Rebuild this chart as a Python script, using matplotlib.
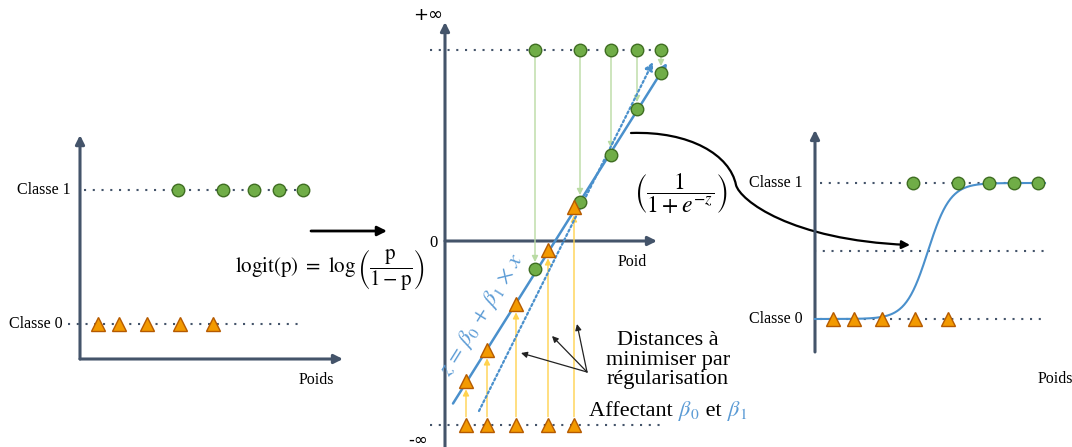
import matplotlib
matplotlib.use('Agg')
import matplotlib.pyplot as plt
import numpy as np
from matplotlib.path import Path
from matplotlib.patches import FancyArrowPatch
from matplotlib.transforms import IdentityTransform

plt.rcParams['font.family'] = ['Liberation Serif', 'DejaVu Serif']
plt.rcParams['mathtext.fontset'] = 'stix'

# --- données ---
poids_classe0 = [18, 39, 67, 100, 133]
poids_classe1 = [98, 143, 174, 199, 223]

# panneau central : abscisses et valeurs de z projetées sur la droite
poids_c0_milieu = [21, 42, 71, 103, 129]
poids_c1_milieu = [90, 135, 166, 192, 216]
z_c0_proj = [-2.80, -2.18, -1.26, -0.18, 0.68]
z_c1_proj = [-0.56, 0.78, 1.72, 2.64, 3.36]
z_plus_inf, z_moins_inf = 3.82, -3.68
droite_x, droite_z = [8, 222], [-3.25, 3.56]        # z = b0 + b1 x
droite2_x, droite2_z = [34, 208], [-3.40, 3.58]     # autre droite (pointillés)

# sigmoïde du panneau droit
sig_x0, sig_k = 113, 0.09
sig_xmin, sig_xmax = 0, 230
seuil = 0.5

ardoise = '#44546A'
vert = '#70AD47'
vert_bord = '#3F6E22'
orange = '#F39A00'
orange_bord = '#B55A00'
bleu = '#5B9BD5'
bleu_ligne = '#4A90CC'

W, H = 1072, 447
fig = plt.figure(figsize=(W / 100, H / 100), dpi=100)
fond = fig.add_axes([0, 0, 1, 1])
fond.set_xlim(0, W)
fond.set_ylim(H, 0)
fond.axis('off')


def panneau(x0, y0, x1, y1, ox, oy, ech):
    ax = fig.add_axes([x0 / W, 1 - y1 / H, (x1 - x0) / W, (y1 - y0) / H])
    ax.set_xlim(x0 - ox, x1 - ox)
    ax.set_ylim((oy - y1) / ech, (oy - y0) / ech)
    ax.axis('off')
    ax.patch.set_alpha(0)
    return ax


def fleche(ax, depart, arrivee, couleur, lw, ms, sA=0, sB=0, z=2):
    ax.annotate('', xy=arrivee, xytext=depart,
                arrowprops=dict(arrowstyle='-|>', color=couleur, lw=lw,
                                mutation_scale=ms, shrinkA=sA, shrinkB=sB),
                zorder=z)


def pointilles(ax, x, y, lw=1.5):
    ax.plot(x, [y, y], color=ardoise, lw=lw, ls=(0, (1, 3.2)), zorder=1)


def marqueurs(ax, x, y, classe):
    if classe == 1:
        ax.plot(x, y, 'o', ms=9, mfc=vert, mec=vert_bord, mew=1, ls='none', zorder=5)
    else:
        ax.plot(x, y, '^', ms=10, mfc=orange, mec=orange_bord, mew=1, ls='none', zorder=5)


# ---------- panneau gauche ----------
g = panneau(0, 110, 370, 400, 80, 324, 134)
y0g = (324 - 359) / 134
fleche(g, (0, y0g), (0, 1.41), ardoise, 2.2, 13)
fleche(g, (0, y0g), (263, y0g), ardoise, 2.2, 13)
pointilles(g, [4, 230], 1)
pointilles(g, [-12, 222], 0)
marqueurs(g, poids_classe1, [1] * 5, 1)
marqueurs(g, poids_classe0, [0] * 5, 0)
g.text(-9, 1, 'Classe 1', ha='right', va='center', fontsize=11.5)
g.text(-17, 0, 'Classe 0', ha='right', va='center', fontsize=11.5)
g.text(236, -0.42, 'Poids', ha='center', va='center', fontsize=11.5)

# flèche + logit
fleche(fond, (311, 231), (387, 231), 'black', 2, 14)
fond.text(330, 270, r'$\mathrm{logit(p)}\ =\ \log\left(\dfrac{\mathrm{p}}{1-\mathrm{p}}\right)$',
          ha='center', va='center', fontsize=15)

# ---------- panneau central ----------
m = panneau(380, 0, 720, 447, 445, 241, 50)
fleche(m, (0, -4.2), (0, 4.38), ardoise, 2.2, 13)
fleche(m, (0, 0), (212, 0), ardoise, 2.2, 13)
pointilles(m, [-15, 220], z_plus_inf)
pointilles(m, [-15, 218], z_moins_inf)
m.text(-17, 4.52, r'+∞', ha='center', va='center', fontsize=13, family='DejaVu Sans')
m.text(-11, -0.03, '0', ha='center', va='center', fontsize=12)
m.text(-27, -3.98, '-∞', ha='center', va='center', fontsize=12, family='DejaVu Sans')
m.text(187, -0.42, 'Poid', ha='center', va='center', fontsize=11.5)

for x, zp in zip(poids_c1_milieu, z_c1_proj):
    fleche(m, (x, z_plus_inf), (x, zp), '#B9DBA3', 1, 9, 5, 5)
for x, zp in zip(poids_c0_milieu, z_c0_proj):
    fleche(m, (x, z_moins_inf), (x, zp), '#FFD24D', 1, 9, 6, 6)

m.annotate('', xy=(droite_x[1], droite_z[1]), xytext=(droite_x[0], droite_z[0]),
           arrowprops=dict(arrowstyle='-|>', color=bleu_ligne, lw=1.8,
                           mutation_scale=12, shrinkA=0, shrinkB=0), zorder=3)
m.annotate('', xy=(droite2_x[1], droite2_z[1]), xytext=(droite2_x[0], droite2_z[0]),
           arrowprops=dict(arrowstyle='-|>', color=bleu_ligne, lw=1.6, ls=(0, (1, 1.2)),
                           mutation_scale=12, shrinkA=0, shrinkB=0), zorder=3)

marqueurs(m, poids_c1_milieu, [z_plus_inf] * 5, 1)
marqueurs(m, poids_c0_milieu, [z_moins_inf] * 5, 0)
marqueurs(m, poids_c1_milieu, z_c1_proj, 1)
marqueurs(m, poids_c0_milieu, z_c0_proj, 0)

m.text(37, -1.48, r'$z\,=\,\beta_0\,+\,\beta_1\,\times\,x$', color=bleu, fontsize=16,
       rotation=58, rotation_mode='anchor', ha='center', va='center')

# distances à minimiser
for x, z in [(76, -2.24), (107, -1.90), (132, -1.66)]:
    m.annotate('', xy=(x, z), xytext=(142, -2.62),
               arrowprops=dict(arrowstyle='-|>', color='#222222', lw=0.9,
                               mutation_scale=9, shrinkA=0, shrinkB=0))
m.text(223, -2.38, 'Distances à\nminimiser par\nrégularisation', ha='center', va='center',
       fontsize=16, linespacing=1.05)

morceaux = [('Affectant ', 'black'), (r'$\beta_0$', bleu), (' et ', 'black'), (r'$\beta_1$', bleu)]
textes = [m.text(0, 0, s, color=c, fontsize=16, va='baseline', ha='left') for s, c in morceaux]
fig.canvas.draw()
rend = fig.canvas.get_renderer()
larg = [t.get_window_extent(rend).width for t in textes]
cx, cy = m.transData.transform((223, -3.50))
x = cx - sum(larg) / 2
for t, w in zip(textes, larg):
    t.set_transform(IdentityTransform())
    t.set_position((x, cy))
    x += w

# sigmoïde
fond.text(681, 194, r'$\left(\dfrac{1}{1+e^{-z}}\right)$', ha='center', va='center', fontsize=17)
verts = [(631, 133), (690, 131), (730, 155), (736, 185),
         (740, 200), (790, 240), (910, 245)]
codes = [Path.MOVETO] + [Path.CURVE4] * 6
fond.add_patch(FancyArrowPatch(path=Path(verts, codes), arrowstyle='-|>',
                               mutation_scale=12, lw=1.6, color='black'))

# ---------- panneau droit ----------
d = panneau(740, 100, 1072, 400, 815, 319, 136)
y0d = (319 - 352) / 136
fleche(d, (0, y0d), (0, 1.39), ardoise, 2.2, 13)
fleche(d, (0, y0d), (262, y0d), ardoise, 2.2, 13)
pointilles(d, [5, 230], 1)
pointilles(d, [-1, 230], seuil)
pointilles(d, [5, 230], 0)
xs = np.linspace(sig_xmin, sig_xmax, 300)
d.plot(xs, 1 / (1 + np.exp(-sig_k * (xs - sig_x0))), color=bleu_ligne, lw=1.5, zorder=3)
marqueurs(d, poids_classe1, [1] * 5, 1)
marqueurs(d, poids_classe0, [0] * 5, 0)
d.text(-12, 1, 'Classe 1', ha='right', va='center', fontsize=11.5)
d.text(-12, 0, 'Classe 0', ha='right', va='center', fontsize=11.5)
d.text(240, -0.44, 'Poids', ha='center', va='center', fontsize=11.5)

fig.savefig('out.png', dpi=100, facecolor='white')
